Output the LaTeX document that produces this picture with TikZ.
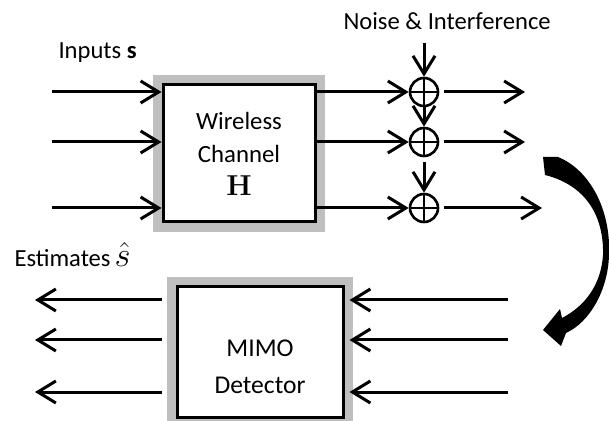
\documentclass[tikz,border=0pt]{standalone}
\usepackage[no-math]{fontspec}
\setmainfont{Carlito}
\usetikzlibrary{positioning, arrows.meta}
\tikzset{every picture/.style={line width=1.5pt}}

\begin{document}
\begin{tikzpicture}
    [x=0.5pt, y=-0.5pt,
    blk/.style = {rectangle, draw, align=center, fill=white,
            font=\fontsize{12.4}{16.5}\selectfont,
            preaction={draw=gray!50, line width=10pt}},
    adder/.style = {circle, draw, line width=1.3pt, minimum size=14pt, inner sep=0pt,
            path picture={\draw[line width=1.3pt]
                (path picture bounding box.north) -- (path picture bounding box.south)
                (path picture bounding box.west) -- (path picture bounding box.east);}},
    sig/.style = {-{Straight Barb[length=9pt, width=11pt]}},
    lbl/.style = {anchor=base west, inner sep=0pt, font=\fontsize{12.3}{14}\selectfont},
    ]
    \useasboundingbox (0,0) rectangle (609,421);

	\node[blk, minimum width=76pt, minimum height=68.5pt] (chan) at (239,153.5) {Wireless\\Channel\\{\fontsize{14}{16}\selectfont$\mathbf{H}$}};
	
	\node[blk, minimum width=83pt, minimum height=65pt] (det) at (260,352) {};
	\node[align=center, font=\fontsize{12.8}{18.5}\selectfont] (det-txt) at ([yshift=-7.25pt]det.center) {MIMO\\Detector};
	
	
	\node[adder] (add1) at (424,92) {};
	\node[adder] (add2) at (424,142) {};
	\node[adder] (add3) at (424,208) {};
	
	
	\node[lbl] (noise-lbl) at (342,30) {Noise \& Interference};
	\node[lbl] (inputs) at (57,59) {Inputs \textbf{s}};
	\node[lbl] (estimates) at (13,267) {Estimates\,{\fontsize{17}{18}\selectfont$\hat{s}$}};
	
	
	\coordinate (in1) at (52,92);
	\coordinate (in2) at (52,142);
	\coordinate (in3) at (52,208);
	\coordinate (noise) at (424,43);
	\coordinate (out1) at (525,92);
	\coordinate (out2) at (525,142);
	\coordinate (out3) at (542,208);
	
	\coordinate (est1) at (35,300);
	\coordinate (est2) at (35,340);
	\coordinate (est3) at (35,392);
	\coordinate (rx1) at (508,300);
	\coordinate (rx2) at (508,340);
	\coordinate (rx3) at (508,392);
	
	\draw[sig] (in1) -- (in1 -| chan.west);
	\draw[sig] (in2) -- (in2 -| chan.west);
	\draw[sig] (in3) -- (in3 -| chan.west);
	
	\draw[sig] (add1 -| chan.east) -- (add1.west);
	\draw[sig] (add2 -| chan.east) -- (add2.west);
	\draw[sig] (add3 -| chan.east) -- (add3.west);
	
	\draw[sig] (noise) -- (add1.north);
	\draw[sig] (add1.south) -- (add2.north);
	\draw[sig, shorten <=2.5pt] (add2.south) -- (add3.north);
	
	\draw[sig, shorten <=2.5pt] (add1.east) -- (out1);
	\draw[sig, shorten <=2.5pt] (add2.east) -- (out2);
	\draw[sig, shorten <=2.5pt] (add3.east) -- (out3);
	
	\draw[sig, shorten <=7pt] (est1 -| det.west) -- (est1);
	\draw[sig, shorten <=7pt] (est2 -| det.west) -- (est2);
	\draw[sig, shorten <=7pt] (est3 -| det.west) -- (est3);
	
	\draw[sig, shorten >=2.5pt] (rx1) -- (rx1 -| det.east);
	\draw[sig, shorten >=2.5pt] (rx2) -- (rx2 -| det.east);
	\draw[sig, shorten >=2.5pt] (rx3) -- (rx3 -| det.east);
	
	% bent arrow from the channel side down to the detector side
	\fill (543,157) -- (558,157)
	    .. controls (590,170) and (611,210) .. (609,255)
	    .. controls (608,290) and (590,322) .. (566,333)
	    -- (561,346) -- (543,330) -- (560,309) -- (562,318)
	    .. controls (585,306) and (601,285) .. (603,255)
	    .. controls (604,215) and (585,185) .. (545,175) -- cycle;
\end{tikzpicture}
\end{document}
